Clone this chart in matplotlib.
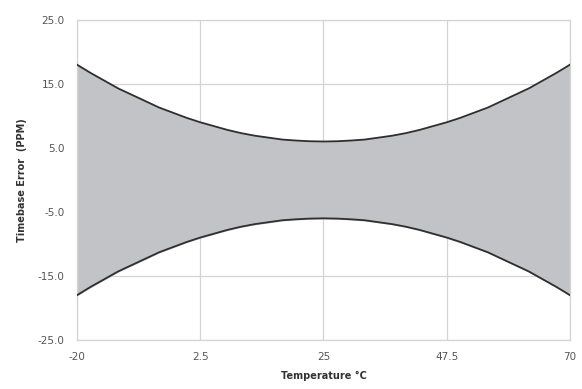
import matplotlib
matplotlib.use("Agg")
import matplotlib.pyplot as plt

# values (upper error bound, PPM)
temps = [-20, -17.5, -15, -12.5, -10, -7.5, -5, -2.5, 0, 2.5, 5, 7.5, 10, 12.5, 15, 17.5, 20, 22.5,
         25, 27.5, 30, 32.5, 35, 37.5, 40, 42.5, 45, 47.5, 50, 52.5, 55, 57.5, 60, 62.5, 65, 67.5, 70]
upper = [18.0, 16.7, 15.5, 14.3, 13.3, 12.3, 11.3, 10.5, 9.7, 9.0, 8.4, 7.8, 7.3, 6.9, 6.6, 6.3, 6.15, 6.04,
         6.0, 6.04, 6.15, 6.3, 6.6, 6.9, 7.3, 7.8, 8.4, 9.0, 9.7, 10.5, 11.3, 12.3, 13.3, 14.3, 15.5, 16.7, 18.0]
lower = [-v for v in upper]
xticks = [-20, 2.5, 25, 47.5, 70]
xtick_labels = ["-20", "2.5", "25", "47.5", "70"]
yticks = [-25, -15, -5, 5, 15, 25]

fig = plt.figure(figsize=(5.82, 3.89), dpi=100)
ax = fig.add_axes([0.1323, 0.126, 0.847, 0.823])

ax.fill_between(temps, lower, upper, color="#c2c3c6", zorder=2)
ax.plot(temps, upper, color="#2f2f2f", lw=1.3, zorder=3)
ax.plot(temps, lower, color="#2f2f2f", lw=1.3, zorder=3)

ax.set_xlim(-20, 70)
ax.set_ylim(-25, 25)
ax.set_xticks(xticks)
ax.set_xticklabels(xtick_labels)
ax.set_yticks(yticks)
ax.set_yticklabels(["%.1f" % v for v in yticks])
ax.grid(True, color="#d4d4d4", lw=0.9, zorder=1)
for s in ax.spines.values():
    s.set_color("#d4d4d4")
    s.set_linewidth(0.9)
ax.tick_params(length=0, labelsize=7.5, labelcolor="#555555", pad=9)

ax.set_xlabel("Temperature °C", fontsize=7, fontweight="bold", color="#333333", labelpad=6)
ax.set_ylabel("Timebase Error  (PPM)", fontsize=7, fontweight="bold", color="#333333", labelpad=8)

plt.savefig("out.png", dpi=100)
